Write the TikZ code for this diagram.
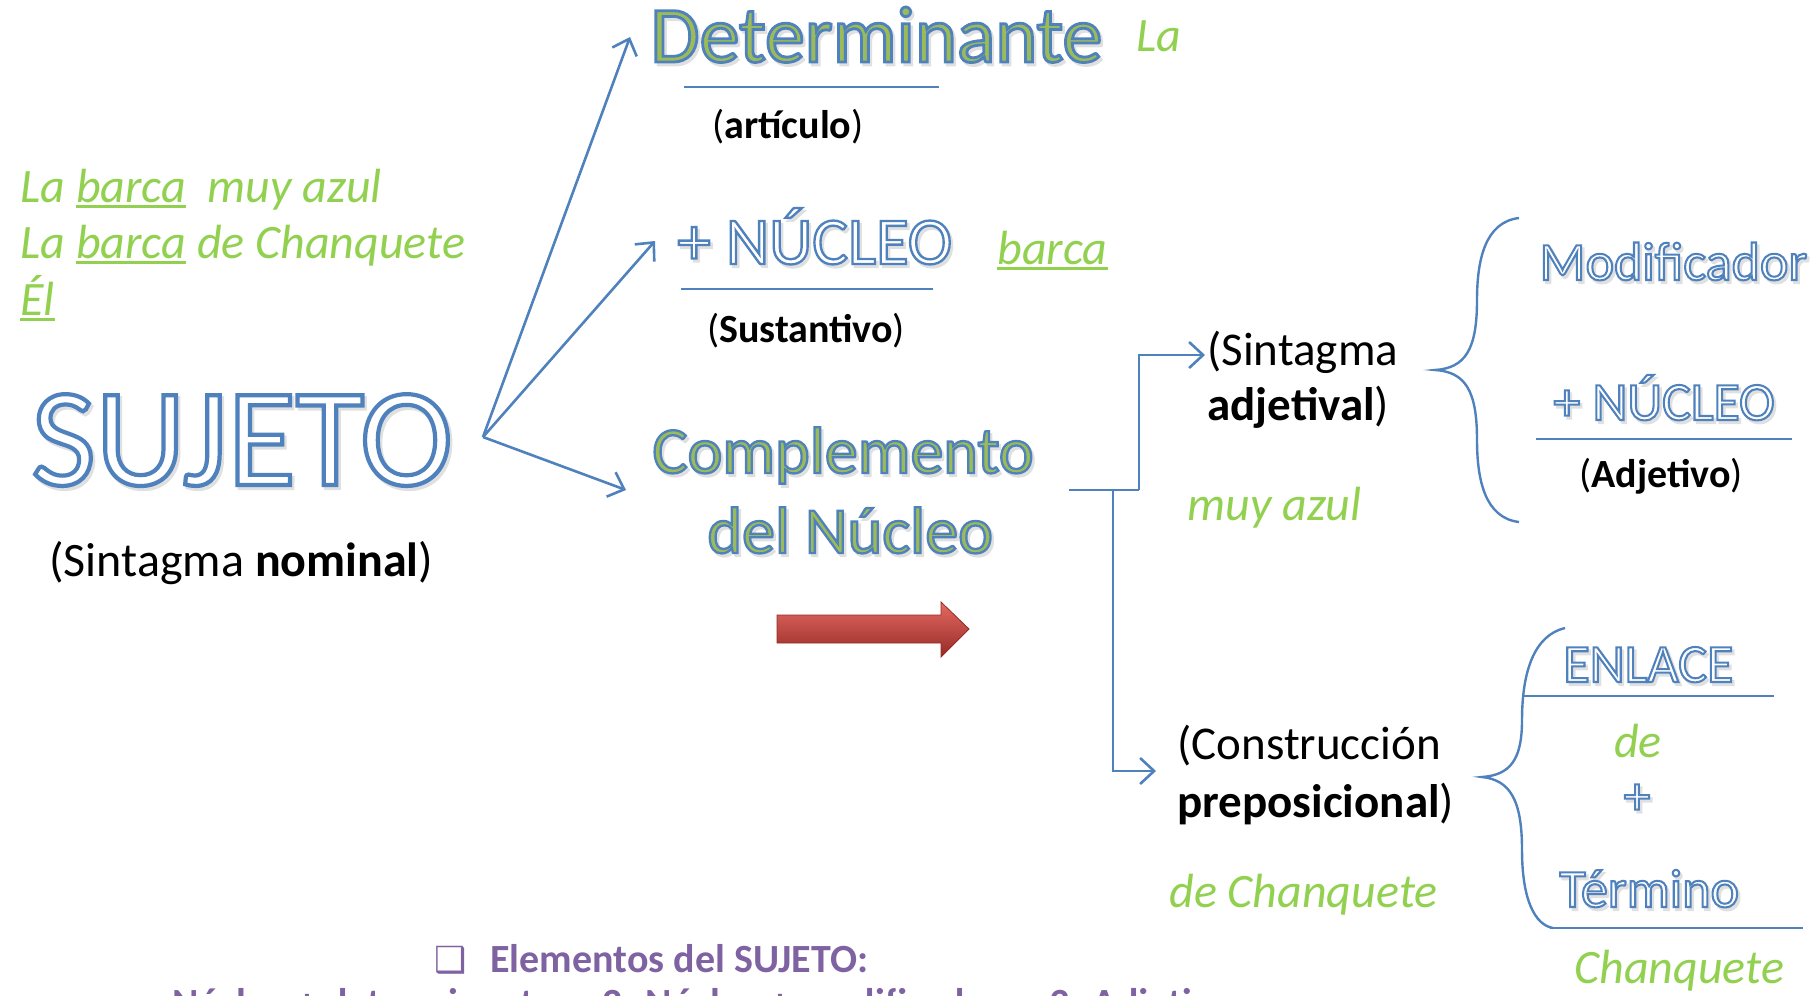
\documentclass[tikz,border=0pt]{standalone}
\usepackage{fontspec}
\setmainfont{Carlito}
\newfontfamily\simbolos{DejaVu Sans}
\newfontfamily\perfil{Carlito}
\usetikzlibrary{arrows.meta}

\definecolor{azul}{HTML}{4F81BD}
\definecolor{verde}{HTML}{92D050}
\definecolor{oliva}{HTML}{9BBB59}
\definecolor{morado}{HTML}{7F62A2}
\definecolor{rojoclaro}{HTML}{E46A62}
\definecolor{rojooscuro}{HTML}{962A26}

\newcommand{\hueco}[3][white]{{\perfil\addfontfeature{FakeBold=#2}%
  \rlap{\kern1.2pt\raisebox{-1.5pt}{\color{black!12}#3}}%
  \color{#1}\special{pdf:literal direct 0.310 0.506 0.741 RG}#3}}
\newcommand{\subr}[1]{\setbox0\hbox{#1}\rlap{\rule[-3pt]{\wd0}{1.7pt}}#1}

\tikzset{
  ejemplo/.style={text=verde, font=\fontsize{24}{28}\selectfont\itshape, inner sep=0pt},
  rotulo/.style={font=\fontsize{23.5}{28}\selectfont, inner sep=0pt},
  etiq/.style={font=\fontsize{20}{24}\selectfont, inner sep=0pt},
  titulo/.style={inner sep=0pt},
  flecha/.style={azul, line width=1.3pt, -{Straight Barb[length=7pt,width=13pt]}},
  raya/.style={azul, line width=1.2pt},
}

\begin{document}
\begin{tikzpicture}[x=0.5pt, y=-0.5pt]
    \useasboundingbox (0,0) rectangle (1818,995);
    \clip (0,0) rectangle (1818,995);

    \node[ejemplo, anchor=base west] (ej1) at (20,202) {La \subr{barca}\ \ muy azul};
    \node[ejemplo, anchor=base west] (ej2) at (20,258) {La \subr{barca} de Chanquete};
    \node[ejemplo, anchor=base west] (ej3) at (20,315) {\subr{Él}};

    \node[titulo, anchor=base west, font=\fontsize{70}{80}\selectfont] (sujeto) at (31,485) {\hueco{3}{SUJETO}};
    \node[rotulo, anchor=base west, font=\fontsize{24}{28}\selectfont] (sujetosn) at (49,576) {(Sintagma \textbf{nominal})};

    \node[titulo, anchor=base west, font=\fontsize{40}{48}\selectfont] (det) at (650,62) {\hueco[oliva]{3.5}{Determinante}};
    \node[ejemplo, anchor=base west] (detej) at (1136,52) {La};
    \node[etiq, anchor=base] (detlbl) at (788,139) {(\textbf{artículo})};

    \node[titulo, anchor=base west, font=\fontsize{33.5}{40}\selectfont] (nucleo) at (677,264) {\hueco{3.5}{+ NÚCLEO}};
    \node[ejemplo, anchor=base west] (nucleoej) at (997,264) {\subr{barca}};
    \node[etiq, anchor=base] (nucleolbl) at (806,342) {(\textbf{Sustantivo})};

    \node[titulo, anchor=base west, font=\fontsize{33}{40}\selectfont] (compl1) at (652,473) {\hueco[oliva]{3.5}{Complemento}};
    \node[titulo, anchor=base west, font=\fontsize{33}{40}\selectfont] (compl2) at (707,553) {\hueco[oliva]{3.5}{del Núcleo}};

    \shade[top color=rojoclaro, bottom color=rojooscuro, draw=rojooscuro, line width=0.4pt]
      (777,615) -- (941,615) -- (941,602) -- (969,629) -- (941,657) -- (941,643) -- (777,643) -- cycle;

    \node[rotulo, anchor=base west] (sadj1) at (1207,365) {(Sintagma};
    \node[rotulo, anchor=base west] (sadj2) at (1207,420) {\textbf{adjetival})};
    \node[ejemplo, anchor=base west] (sadjej) at (1187,520) {muy azul};

    \node[rotulo, anchor=base west] (cprep1) at (1177,759) {(Construcción};
    \node[rotulo, anchor=base west] (cprep2) at (1177,817) {\textbf{preposicional})};
    \node[ejemplo, anchor=base west] (cprepej) at (1169,907) {de Chanquete};

    \node[titulo, anchor=base west, font=\fontsize{27}{32}\selectfont] (modif) at (1539,280) {\hueco{3.8}{Modificador}};
    \node[titulo, anchor=base west, font=\fontsize{27}{32}\selectfont] (nucleo2) at (1553,420) {\hueco{3.8}{+ NÚCLEO}};
    \node[etiq, anchor=base] (adjlbl) at (1661,487) {(\textbf{Adjetivo})};

    \node[titulo, anchor=base west, font=\fontsize{27}{32}\selectfont] (enlace) at (1563,682) {\hueco{3.8}{ENLACE}};
    \node[ejemplo, anchor=base] (enlaceej) at (1638,757) {de};
    \node[titulo, anchor=base, font=\fontsize{27}{32}\selectfont] (mas) at (1637,814) {\hueco{3.8}{+}};
    \node[titulo, anchor=base west, font=\fontsize{27}{32}\selectfont] (termino) at (1559,907) {\hueco{3.8}{Término}};
    \node[ejemplo, anchor=base west] (terminoej) at (1574,983) {Chanquete};

    \node[anchor=base west, inner sep=0pt, text=morado, font=\fontsize{20}{24}\selectfont\bfseries] (elem) at (490,972) {Elementos del SUJETO:};
    \node[anchor=base west, inner sep=0pt, text=morado, font=\fontsize{18}{24}\selectfont] (casilla) at (434,972) {\simbolos ❑};
    \node[anchor=base west, inner sep=0pt, text=morado, font=\fontsize{20}{24}\selectfont\bfseries] (lista) at (172,1016) {Núcleo + determinante \quad 2. Núcleo + modificador \quad 3. Adjetivo};

    \draw[raya] (684,87) -- (939,87);
    \draw[raya] (681,289) -- (933,289);
    \draw[raya] (1536,439) -- (1792,439);
    \draw[raya] (1522,696) -- (1774,696);
    \draw[raya] (1550,928) -- (1803,928);

    \coordinate (origen) at (483,437);
    \coordinate (pdet) at (630,37);
    \coordinate (pnuc) at (655,241);
    \coordinate (pcom) at (626,490);
    \draw[flecha] (origen) -- (pdet);
    \draw[flecha] (origen) -- (pnuc);
    \draw[flecha] (origen) -- (pcom);

    \coordinate (salida) at (1069,490);
    \coordinate (padj) at (1205,355);
    \coordinate (pprep) at (1156,771);
    \draw[raya] (salida) -- (1139,490);
    \draw[flecha] (1139,490) |- (padj);
    \draw[flecha] (1113,490) |- (pprep);

    \draw[raya] (1519,218) .. controls (1485,222) and (1477,260) .. (1477,300)
      .. controls (1477,350) and (1465,368) .. (1435,370)
      .. controls (1465,372) and (1477,390) .. (1477,440)
      .. controls (1477,480) and (1485,518) .. (1519,522);
    \draw[raya] (1565,628) .. controls (1535,635) and (1522,670) .. (1522,720)
      .. controls (1522,760) and (1510,775) .. (1482,777)
      .. controls (1510,780) and (1522,800) .. (1522,850)
      .. controls (1522,900) and (1535,925) .. (1553,928);
\end{tikzpicture}
\end{document}
